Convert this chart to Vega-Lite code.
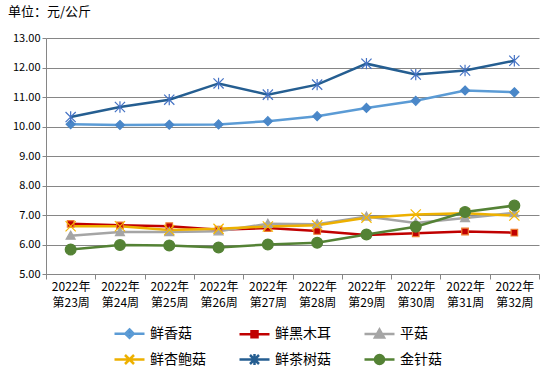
{
  "$schema": "https://vega.github.io/schema/vega-lite/v6.json",
  "width": 493,
  "height": 236,
  "autosize": "none",
  "padding": {"left": 46, "top": 38, "right": 11, "bottom": 96},
  "background": "white",
  "config": {
    "font": "Noto Sans CJK SC",
    "view": {"stroke": null},
    "axis": {"labelColor": "#000000", "domainColor": "#868686", "tickColor": "#868686", "gridColor": "#868686", "labelFont": "Noto Sans CJK SC"}
  },
  "title": {"text": "单位：元/公斤", "anchor": "start", "frame": "group", "dx": -38, "offset": 13, "fontSize": 13, "fontWeight": "normal", "color": "#000000"},
  "data": {"values": [
    {"week": "2022年第23周", "series": "鲜香菇", "value": 10.08},
    {"week": "2022年第24周", "series": "鲜香菇", "value": 10.05},
    {"week": "2022年第25周", "series": "鲜香菇", "value": 10.06},
    {"week": "2022年第26周", "series": "鲜香菇", "value": 10.07},
    {"week": "2022年第27周", "series": "鲜香菇", "value": 10.18},
    {"week": "2022年第28周", "series": "鲜香菇", "value": 10.35},
    {"week": "2022年第29周", "series": "鲜香菇", "value": 10.63},
    {"week": "2022年第30周", "series": "鲜香菇", "value": 10.87},
    {"week": "2022年第31周", "series": "鲜香菇", "value": 11.22},
    {"week": "2022年第32周", "series": "鲜香菇", "value": 11.16},
    {"week": "2022年第23周", "series": "鲜黑木耳", "value": 6.70},
    {"week": "2022年第24周", "series": "鲜黑木耳", "value": 6.65},
    {"week": "2022年第25周", "series": "鲜黑木耳", "value": 6.62},
    {"week": "2022年第26周", "series": "鲜黑木耳", "value": 6.50},
    {"week": "2022年第27周", "series": "鲜黑木耳", "value": 6.56},
    {"week": "2022年第28周", "series": "鲜黑木耳", "value": 6.46},
    {"week": "2022年第29周", "series": "鲜黑木耳", "value": 6.32},
    {"week": "2022年第30周", "series": "鲜黑木耳", "value": 6.38},
    {"week": "2022年第31周", "series": "鲜黑木耳", "value": 6.44},
    {"week": "2022年第32周", "series": "鲜黑木耳", "value": 6.40},
    {"week": "2022年第23周", "series": "平菇", "value": 6.30},
    {"week": "2022年第24周", "series": "平菇", "value": 6.42},
    {"week": "2022年第25周", "series": "平菇", "value": 6.42},
    {"week": "2022年第26周", "series": "平菇", "value": 6.45},
    {"week": "2022年第27周", "series": "平菇", "value": 6.70},
    {"week": "2022年第28周", "series": "平菇", "value": 6.69},
    {"week": "2022年第29周", "series": "平菇", "value": 6.95},
    {"week": "2022年第30周", "series": "平菇", "value": 6.73},
    {"week": "2022年第31周", "series": "平菇", "value": 6.90},
    {"week": "2022年第32周", "series": "平菇", "value": 7.07},
    {"week": "2022年第23周", "series": "鲜杏鲍菇", "value": 6.62},
    {"week": "2022年第24周", "series": "鲜杏鲍菇", "value": 6.62},
    {"week": "2022年第25周", "series": "鲜杏鲍菇", "value": 6.49},
    {"week": "2022年第26周", "series": "鲜杏鲍菇", "value": 6.53},
    {"week": "2022年第27周", "series": "鲜杏鲍菇", "value": 6.61},
    {"week": "2022年第28周", "series": "鲜杏鲍菇", "value": 6.65},
    {"week": "2022年第29周", "series": "鲜杏鲍菇", "value": 6.91},
    {"week": "2022年第30周", "series": "鲜杏鲍菇", "value": 7.02},
    {"week": "2022年第31周", "series": "鲜杏鲍菇", "value": 7.06},
    {"week": "2022年第32周", "series": "鲜杏鲍菇", "value": 6.98},
    {"week": "2022年第23周", "series": "鲜茶树菇", "value": 10.32},
    {"week": "2022年第24周", "series": "鲜茶树菇", "value": 10.66},
    {"week": "2022年第25周", "series": "鲜茶树菇", "value": 10.91},
    {"week": "2022年第26周", "series": "鲜茶树菇", "value": 11.46},
    {"week": "2022年第27周", "series": "鲜茶树菇", "value": 11.08},
    {"week": "2022年第28周", "series": "鲜茶树菇", "value": 11.42},
    {"week": "2022年第29周", "series": "鲜茶树菇", "value": 12.13},
    {"week": "2022年第30周", "series": "鲜茶树菇", "value": 11.76},
    {"week": "2022年第31周", "series": "鲜茶树菇", "value": 11.90},
    {"week": "2022年第32周", "series": "鲜茶树菇", "value": 12.23},
    {"week": "2022年第23周", "series": "金针菇", "value": 5.83},
    {"week": "2022年第24周", "series": "金针菇", "value": 5.98},
    {"week": "2022年第25周", "series": "金针菇", "value": 5.97},
    {"week": "2022年第26周", "series": "金针菇", "value": 5.90},
    {"week": "2022年第27周", "series": "金针菇", "value": 6.00},
    {"week": "2022年第28周", "series": "金针菇", "value": 6.06},
    {"week": "2022年第29周", "series": "金针菇", "value": 6.34},
    {"week": "2022年第30周", "series": "金针菇", "value": 6.60},
    {"week": "2022年第31周", "series": "金针菇", "value": 7.10},
    {"week": "2022年第32周", "series": "金针菇", "value": 7.32}
  ]},
  "encoding": {
    "x": {
      "field": "week", "type": "ordinal", "sort": null, "bandPosition": 0.5,
      "scale": {"type": "band", "paddingInner": 0, "paddingOuter": 0},
      "axis": {"title": null, "labelAngle": 0, "tickBand": "extent", "tickSize": 5, "labelPadding": 2, "labelFontSize": 12, "labelLineHeight": 16, "labelExpr": "[slice(datum.label, 0, 5), slice(datum.label, 5)]", "grid": false}
    },
    "y": {
      "field": "value", "type": "quantitative",
      "scale": {"domain": [5, 13], "nice": false, "zero": false},
      "axis": {"title": null, "values": [5, 6, 7, 8, 9, 10, 11, 12, 13], "format": ".2f", "grid": true, "tickSize": 4, "labelPadding": 2, "labelFontSize": 11}
    }
  },
  "layer": [
    {
      "mark": {"type": "line", "strokeWidth": 2.5},
      "encoding": {
        "stroke": {"field": "series", "type": "nominal", "legend": null,
          "scale": {"domain": ["鲜香菇", "鲜黑木耳", "平菇", "鲜杏鲍菇", "鲜茶树菇", "金针菇"], "range": ["#5B9BD5", "#C00000", "#A5A5A5", "#EDB000", "#255E91", "#548235"]}}
      }
    },
    {
      "mark": {"type": "point", "filled": true, "opacity": 1, "size": 144, "strokeWidth": 1.2},
      "encoding": {
        "shape": {"field": "series", "type": "nominal", "legend": null,
          "scale": {"domain": ["鲜香菇", "鲜黑木耳", "平菇", "鲜杏鲍菇", "鲜茶树菇", "金针菇"],
            "range": [
              "M0,-0.75L0.75,0L0,0.75L-0.75,0Z",
              "M-0.55,-0.55L0.55,-0.55L0.55,0.55L-0.55,0.55Z",
              "M0,-0.75L0.75,0.6L-0.75,0.6Z",
              "M-0.85,-0.85L0.85,0.85M-0.85,0.85L0.85,-0.85",
              "M-0.85,-0.85L0.85,0.85M-0.85,0.85L0.85,-0.85M0,-0.95L0,0.95",
              "M0.9,0A0.9,0.9,0,1,1,-0.9,0A0.9,0.9,0,1,1,0.9,0Z"
            ]}},
        "fill": {"field": "series", "type": "nominal", "legend": null,
          "scale": {"domain": ["鲜香菇", "鲜黑木耳", "平菇", "鲜杏鲍菇", "鲜茶树菇", "金针菇"], "range": ["#4A87C8", "#C00000", "#A5A5A5", "#F5B800", "#4472C4", "#548235"]}},
        "stroke": {"field": "series", "type": "nominal", "legend": null,
          "scale": {"domain": ["鲜香菇", "鲜黑木耳", "平菇", "鲜杏鲍菇", "鲜茶树菇", "金针菇"], "range": ["#4A87C8", "#ED7D31", "#A5A5A5", "#F5B800", "#4472C4", "#548235"]}}
      }
    },
    {
      "data": {"values": []},
      "mark": {"type": "point", "filled": true, "opacity": 1, "size": 900, "strokeWidth": 2.5},
      "encoding": {
        "shape": {"field": "series", "type": "nominal",
          "legend": {"title": null, "orient": "none", "legendX": 67, "legendY": 279, "columns": 3, "direction": "horizontal", "symbolSize": 900, "symbolStrokeWidth": 2.5, "symbolOpacity": 1, "labelFontSize": 14, "labelColor": "#000000", "labelOffset": 4, "columnPadding": 28, "rowPadding": -12, "labelFont": "Noto Sans CJK SC"},
          "scale": {"domain": ["鲜香菇", "鲜黑木耳", "平菇", "鲜杏鲍菇", "鲜茶树菇", "金针菇"],
            "range": [
              "M-1,0L1,0M0,-0.28L0.28,0L0,0.28L-0.28,0Z",
              "M-1,0L1,0M-0.2,-0.2L0.2,-0.2L0.2,0.2L-0.2,0.2Z",
              "M-1,0L1,0M0,-0.3L0.3,0.22L-0.3,0.22Z",
              "M-1,0L1,0M-0.3,-0.3L0.3,0.3M-0.3,0.3L0.3,-0.3",
              "M-1,0L1,0M-0.3,-0.3L0.3,0.3M-0.3,0.3L0.3,-0.3M0,-0.36L0,0.36",
              "M-1,0L1,0M0.3,0A0.3,0.3,0,1,1,-0.3,0A0.3,0.3,0,1,1,0.3,0Z"
            ]}},
        "fill": {"field": "series", "type": "nominal",
          "scale": {"domain": ["鲜香菇", "鲜黑木耳", "平菇", "鲜杏鲍菇", "鲜茶树菇", "金针菇"], "range": ["#4A87C8", "#C00000", "#A5A5A5", "#F5B800", "#4472C4", "#548235"]}},
        "stroke": {"field": "series", "type": "nominal",
          "scale": {"domain": ["鲜香菇", "鲜黑木耳", "平菇", "鲜杏鲍菇", "鲜茶树菇", "金针菇"], "range": ["#5B9BD5", "#C00000", "#A5A5A5", "#EDB000", "#255E91", "#548235"]}}
      }
    }
  ],
  "resolve": {
    "scale": {"shape": "independent", "fill": "independent", "stroke": "independent"},
    "legend": {"shape": "independent", "fill": "independent", "stroke": "independent"}
  }
}
